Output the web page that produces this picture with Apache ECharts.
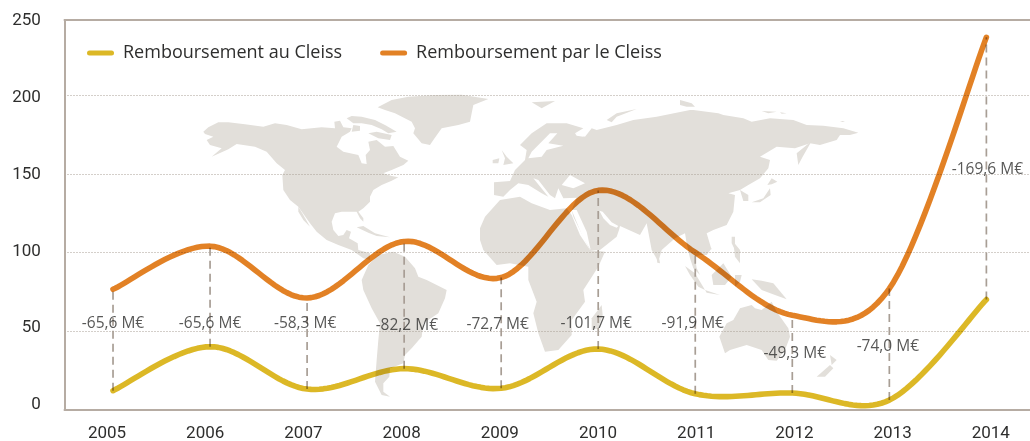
<!DOCTYPE html>
<html><head><meta charset="utf-8">
<script src="https://cdn.jsdelivr.net/npm/echarts@6/dist/echarts.min.js"></script>
<style>html,body{margin:0;padding:0;background:#fff}#c{width:1030px;height:441px}</style>
</head><body><div id="c"></div>
<script>
const years = ['2005','2006','2007','2008','2009','2010','2011','2012','2013','2014'];
const remboursementAu = [12, 40, 13, 26, 13.5, 38.5, 10, 10.5, 6, 70];
const remboursementPar = [76.5, 104, 71, 107, 84, 139.5, 100, 60, 77, 237];
const soldes = ['-65,6 M€','-65,6 M€','-58,3 M€','-82,2 M€','-72,7 M€','-101,7 M€','-91,9 M€','-49,3 M€','-74,0 M€','-169,6 M€'];
const seriesNames = ['Remboursement au Cleiss','Remboursement par le Cleiss'];

// label placement: value-axis height and pixel nudge
const labelHeights = [54.5,54.5,54.5,53.2,53.8,54.5,54.5,35.3,39.8,153];
const labelNudges = [0,0,-2,2.7,-3.5,-2,-2.5,2.5,-1.5,1];

const FONT = 'Roboto', FONT2 = 'Open Sans';
const C_AXIS = '#b6aca3', C_TXT = '#2e2e2d', C_MAP = '#e2dfda';

// background world map, traced in zoom coordinates
const T = (ox,oy,p)=>p.map(([x,y])=>[ox+x/3,oy+y/3]);
const land = [
 // North America
 T(195,90,[[25,125],[40,112],[70,97],[100,97],[150,103],[205,110],[240,100],[275,105],[320,118],[380,112],[420,115],[418,95],[435,92],[445,112],[470,115],[465,125],[440,140],[425,170],[445,185],[490,195],[500,220],[515,222],[512,195],[525,180],[520,155],[545,150],[570,170],[595,168],[615,200],[640,212],[625,225],[590,240],[565,250],[590,258],[610,262],[590,272],[560,285],[535,300],[525,320],[525,335],[505,355],[490,365],[505,385],[505,395],[495,385],[485,365],[440,365],[420,370],[410,395],[415,420],[430,438],[445,435],[455,420],[468,425],[462,445],[488,460],[490,480],[525,490],[525,510],[505,505],[470,480],[430,465],[395,450],[365,425],[345,400],[310,350],[285,330],[265,300],[262,255],[270,240],[245,220],[215,185],[180,170],[125,162],[100,178],[50,200],[80,175],[45,165],[35,150],[55,140],[30,132]]),
 T(195,90,[[455,85],[470,78],[500,80],[540,90],[570,105],[605,125],[580,130],[560,118],[530,105],[500,100],[475,100]]),
 T(195,90,[[520,130],[545,125],[590,135],[585,150],[550,145]]),
 T(195,90,[[475,105],[495,108],[495,122],[470,125]]),
 T(195,90,[[310,350],[325,375],[345,410],[325,390],[310,365]]),
 // Greenland
 T(195,90,[[548,52],[590,30],[640,20],[720,15],[800,14],[880,27],[835,45],[830,70],[825,95],[790,105],[740,115],[715,150],[705,165],[680,160],[655,130],[660,115],[650,95],[600,70],[570,60]]),
 T(195,90,[[485,412],[505,408],[540,430],[585,442],[545,438],[520,428]]),
 // South America
 T(340,240,[[65,120],[85,75],[115,45],[160,35],[195,50],[225,85],[235,110],[260,120],[320,150],[315,175],[295,220],[250,250],[245,290],[215,325],[195,345],[190,370],[150,385],[148,410],[130,430],[130,455],[150,470],[125,465],[105,425],[110,360],[115,300],[120,250],[95,205],[70,150]]),
 // Africa
 [...T(470,95,[[30,400],[45,365],[90,315],[150,305],[185,325],[240,345],[290,340],[305,360],[330,420],[360,465]]),
  ...T(340,240,[[795,35],[775,80],[730,150],[735,185],[695,240],[695,285],[655,330],[615,335],[595,280],[580,220],[590,185],[565,120],[565,80],[510,70],[470,75],[430,30],[420,0]])],
 T(340,240,[[770,215],[785,195],[788,225],[775,265],[755,270],[755,235]]),
 // Eurasia
 [...T(470,95,[[72,300],[72,262],[120,258],[135,225],[165,195],[170,165],[150,150],[185,115],[230,85],[290,85],[340,100],[315,115],[345,125],[365,100],[380,105],[440,90],[490,75],[560,65],[660,45]]),
  ...T(680,95,[[40,45],[115,55],[130,60],[190,70],[215,80],[270,70],[340,75],[380,90],[430,92],[490,100],[535,113],[510,120],[480,120],[470,135],[420,150],[390,145],[345,160],[290,155],[240,185],[270,195],[265,220],[240,250],[205,270],[180,285],[145,295],[165,300],[160,350],[140,390],[100,405],[80,415],[95,465]]),
  ...T(640,240,[[215,25],[200,45],[180,45],[165,50],[170,85],[180,105],[160,85],[150,55],[140,10]]),
  ...T(515,220,[[510,40],[480,55],[440,90],[430,125],[410,90],[395,10]]),
  ...T(470,95,[[510,420],[450,393],[447,405],[440,425],[390,465],[360,465],[310,365],[305,345],[320,308],[280,310],[265,280],[255,310],[240,300],[205,255],[190,250],[235,305],[215,295],[175,270],[145,265],[120,285],[100,305]])],
 T(470,95,[[95,165],[110,185],[130,205],[100,210],[105,190]]),
 T(470,95,[[68,195],[88,190],[85,205],[68,205]]),
 T(470,95,[[185,22],[255,18],[215,40]]),
 T(470,95,[[410,75],[440,55],[500,42],[440,65],[425,82]]),
 T(680,95,[[0,15],[35,25],[45,35],[20,35],[0,30]]),
 T(680,95,[[350,175],[395,138],[368,185],[355,210]]),
 T(680,95,[[262,270],[275,250],[292,260],[275,268]]),
 T(680,95,[[215,322],[250,310],[270,280],[272,300],[240,322]]),
 T(680,95,[[180,285],[205,300],[205,318],[190,318]]),
 T(680,95,[[155,425],[165,425],[165,450],[183,470],[165,465],[155,445]]),
 T(680,95,[[245,48],[290,50],[265,55]]),
 T(680,95,[[300,52],[320,55],[305,56]]),
 T(680,95,[[480,78],[495,78],[488,81]]),
 // Sri Lanka, Indonesia, Oceania
 T(640,240,[[50,55],[58,58],[60,70],[52,68]]),
 T(640,240,[[135,78],[165,100],[195,150],[175,140],[150,105]]),
 T(640,240,[[195,150],[240,165],[200,158]]),
 T(640,240,[[215,105],[250,70],[275,110],[255,135],[220,135]]),
 T(640,240,[[285,105],[305,105],[300,125],[285,140]]),
 T(640,240,[[335,118],[365,122],[400,130],[440,178],[405,165],[365,150]]),
 T(640,240,[[280,5],[300,30],[300,70],[285,50]]),
 T(640,240,[[238,290],[260,250],[280,240],[300,205],[335,195],[345,205],[365,210],[395,185],[410,215],[445,265],[450,290],[435,330],[410,362],[385,360],[365,330],[320,315],[270,330],[255,340]]),
 T(640,240,[[530,410],[570,375],[580,385],[555,410]]),
 T(640,240,[[570,345],[590,360],[575,375]])
];
const seas = [
 T(470,95,[[175,190],[185,170],[240,115],[262,115],[235,145],[280,152],[230,165],[215,185]]),
 T(470,95,[[275,270],[300,240],[345,265],[310,280]]),
 T(470,95,[[388,347],[398,350],[425,382],[445,393],[440,398],[420,390],[400,370]]),
 T(470,95,[[315,115],[345,118],[340,125],[320,122]]),
 T(470,95,[[305,345],[320,345],[350,410],[362,465],[340,430]])
];
const mapGraphic = [
 ...land.map(points=>({type:'polygon',silent:true,z:-2,shape:{points},style:{fill:C_MAP}})),
 ...seas.map(points=>({type:'polygon',silent:true,z:-1,shape:{points},style:{fill:'#fff'}}))
];

const pill = 'path://M2.5 0H24.5A2.5 2.5 0 0 1 24.5 5H2.5A2.5 2.5 0 0 1 2.5 0Z';

// Spreadsheet-style spline through the data, mapped with the chart's own scale.
const splineSeries = (name,data,color)=>({
  name,type:'custom',z:5,blendMode:'multiply',silent:true,xAxisIndex:0,yAxisIndex:0,
  itemStyle:{color},
  data:data.map((v,i)=>[i,v]),
  encode:{x:0,y:1},
  renderItem:(p,api)=>{
    if(p.dataIndex!==0) return null;
    const P=data.map((v,i)=>api.coord([i,v])), pts=[];
    for(let i=0;i<P.length-1;i++){
      const p0=P[Math.max(i-1,0)],p1=P[i],p2=P[i+1],p3=P[Math.min(i+2,P.length-1)];
      for(let s=0;s<24;s++){
        const t=s/24,t2=t*t,t3=t2*t;
        const f=k=>0.5*(2*p1[k]+(p2[k]-p0[k])*t+(2*p0[k]-5*p1[k]+4*p2[k]-p3[k])*t2+(3*p1[k]-p0[k]-3*p2[k]+p3[k])*t3);
        pts.push([f(0),f(1)]);
      }
    }
    pts.push(P[P.length-1]);
    return {type:'polyline',shape:{points:pts},style:{stroke:color,lineWidth:5.6,lineCap:'round',lineJoin:'round',fill:null}};
  }
});

const option = {
  animation:false,
  backgroundColor:'#fff',
  textStyle:{fontFamily:FONT},
  graphic:{elements:mapGraphic},
  grid:[
    {left:64.5,top:20,width:970.4,height:389.5,outerBoundsMode:'none'},
    {left:57.9,top:21,width:982,height:384,outerBoundsMode:'none'}
  ],
  legend:{
    left:87,top:44,padding:0,itemWidth:27,itemHeight:5,itemGap:38,icon:pill,
    data:seriesNames,
    textStyle:{fontFamily:FONT2,fontSize:18,color:C_TXT,padding:[0,0,0,4]}
  },
  xAxis:[
    {type:'category',gridIndex:0,data:years,boundaryGap:true,
     axisLine:{lineStyle:{color:C_AXIS,width:2}},axisTick:{show:false},axisLabel:{show:false}},
    {type:'category',gridIndex:0,position:'top',data:years,
     axisLine:{lineStyle:{color:C_AXIS,width:2}},axisTick:{show:false},axisLabel:{show:false}},
    {type:'category',gridIndex:1,data:years,boundaryGap:true,
     axisLine:{show:false},axisTick:{show:false},
     axisLabel:{interval:0,fontFamily:FONT,fontSize:17,color:C_TXT,margin:20}}
  ],
  yAxis:[
    {type:'value',gridIndex:0,min:0,max:248,interval:50,
     axisLine:{show:true,lineStyle:{color:C_AXIS,width:2}},axisTick:{show:false},axisLabel:{show:false},
     splitLine:{show:true,lineStyle:{color:'#a89e95',type:[1,2],width:1}}},
    {type:'value',gridIndex:1,min:0,max:250,interval:50,
     axisLine:{show:false},axisTick:{show:false},splitLine:{show:false},
     axisLabel:{fontFamily:FONT,fontSize:17,color:C_TXT,margin:17,align:'right'}}
  ],
  series:[
    {type:'custom',name:'écart',xAxisIndex:0,yAxisIndex:0,z:3,silent:true,
     data:years.map((y,i)=>[i,remboursementAu[i],remboursementPar[i]]),
     encode:{x:0,y:[1,2]},
     renderItem:(p,api)=>{
       const a=api.coord([api.value(0),api.value(1)]),b=api.coord([api.value(0),api.value(2)]);
       return {type:'line',shape:{x1:a[0],y1:a[1],x2:b[0],y2:b[1]},
         style:{stroke:'#a89e95',lineWidth:1.7,lineDash:[8,5],fill:null}};
     }},
    splineSeries(seriesNames[0],remboursementAu,'#dcb826'),
    splineSeries(seriesNames[1],remboursementPar,'#e28125'),
    {type:'scatter',name:'solde',xAxisIndex:0,yAxisIndex:0,symbolSize:0,z:6,silent:true,
     data:years.map((y,i)=>({value:[i,labelHeights[i]],
       label:{show:true,position:'inside',formatter:soldes[i],offset:[labelNudges[i],0],
              fontFamily:FONT2,fontSize:15.5,color:C_TXT}}))}
  ]
};
const chart = echarts.init(document.getElementById('c'),null,{renderer:'canvas'});
chart.setOption(option);
</script></body></html>
